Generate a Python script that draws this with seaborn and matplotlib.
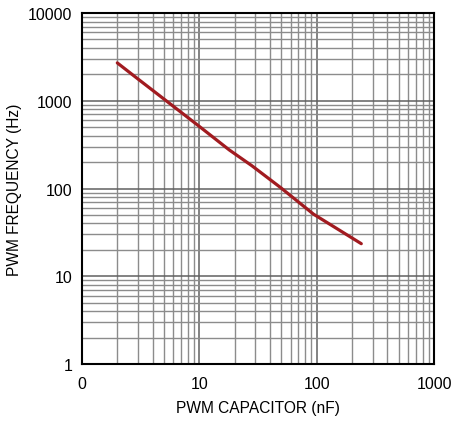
import matplotlib
matplotlib.use('Agg')
import matplotlib.pyplot as plt
import matplotlib.ticker as mticker
import seaborn as sns
import pandas as pd

# values
cap_nf = [2.0, 3.0, 5.0, 10.0, 18.0, 28.0, 49.0, 94.0, 240.0]
freq_hz = [2700, 1770, 1045, 510, 275, 182, 103, 51, 23.5]
x_ticks = [1, 10, 100, 1000]
x_labels = ['0', '10', '100', '1000']
y_ticks = [1, 10, 100, 1000, 10000]
y_labels = ['1', '10', '100', '1000', '10000']

df = pd.DataFrame({'cap': cap_nf, 'freq': freq_hz})

sns.set_style('white')
plt.rcParams['font.family'] = ['Liberation Sans', 'DejaVu Sans']
plt.rcParams['text.color'] = 'black'
plt.rcParams['axes.labelcolor'] = 'black'

fig = plt.figure(figsize=(4.52, 4.27), dpi=100)
ax = fig.add_axes([0.1814, 0.1452, 0.7788, 0.822])

sns.lineplot(data=df, x='cap', y='freq', color='#A11B20', linewidth=2.3, ax=ax)

ax.set_xscale('log')
ax.set_yscale('log')
ax.set_xlim(1, 1000)
ax.set_ylim(1, 10000)

ax.set_xticks(x_ticks)
ax.set_xticklabels(x_labels)
ax.set_yticks(y_ticks)
ax.set_yticklabels(y_labels)
ax.xaxis.set_minor_locator(mticker.LogLocator(base=10, subs=range(2, 10)))
ax.yaxis.set_minor_locator(mticker.LogLocator(base=10, subs=range(2, 10)))
ax.xaxis.set_minor_formatter(mticker.NullFormatter())
ax.yaxis.set_minor_formatter(mticker.NullFormatter())

ax.grid(which='major', color='#606060', linewidth=1.1)
ax.grid(which='minor', color='#8c8c8c', linewidth=1.0)
ax.set_axisbelow(True)

ax.tick_params(which='both', length=0, labelsize=11.5, labelcolor='black')
ax.tick_params(axis='x', pad=9)
ax.tick_params(axis='y', pad=7)

for s in ax.spines.values():
    s.set_color('black')
    s.set_linewidth(1.5)

ax.set_xlabel('PWM CAPACITOR (nF)', fontsize=11.2, labelpad=6)
ax.set_ylabel('PWM FREQUENCY (Hz)', fontsize=11.2, labelpad=4)

fig.savefig('out.png', dpi=100)
